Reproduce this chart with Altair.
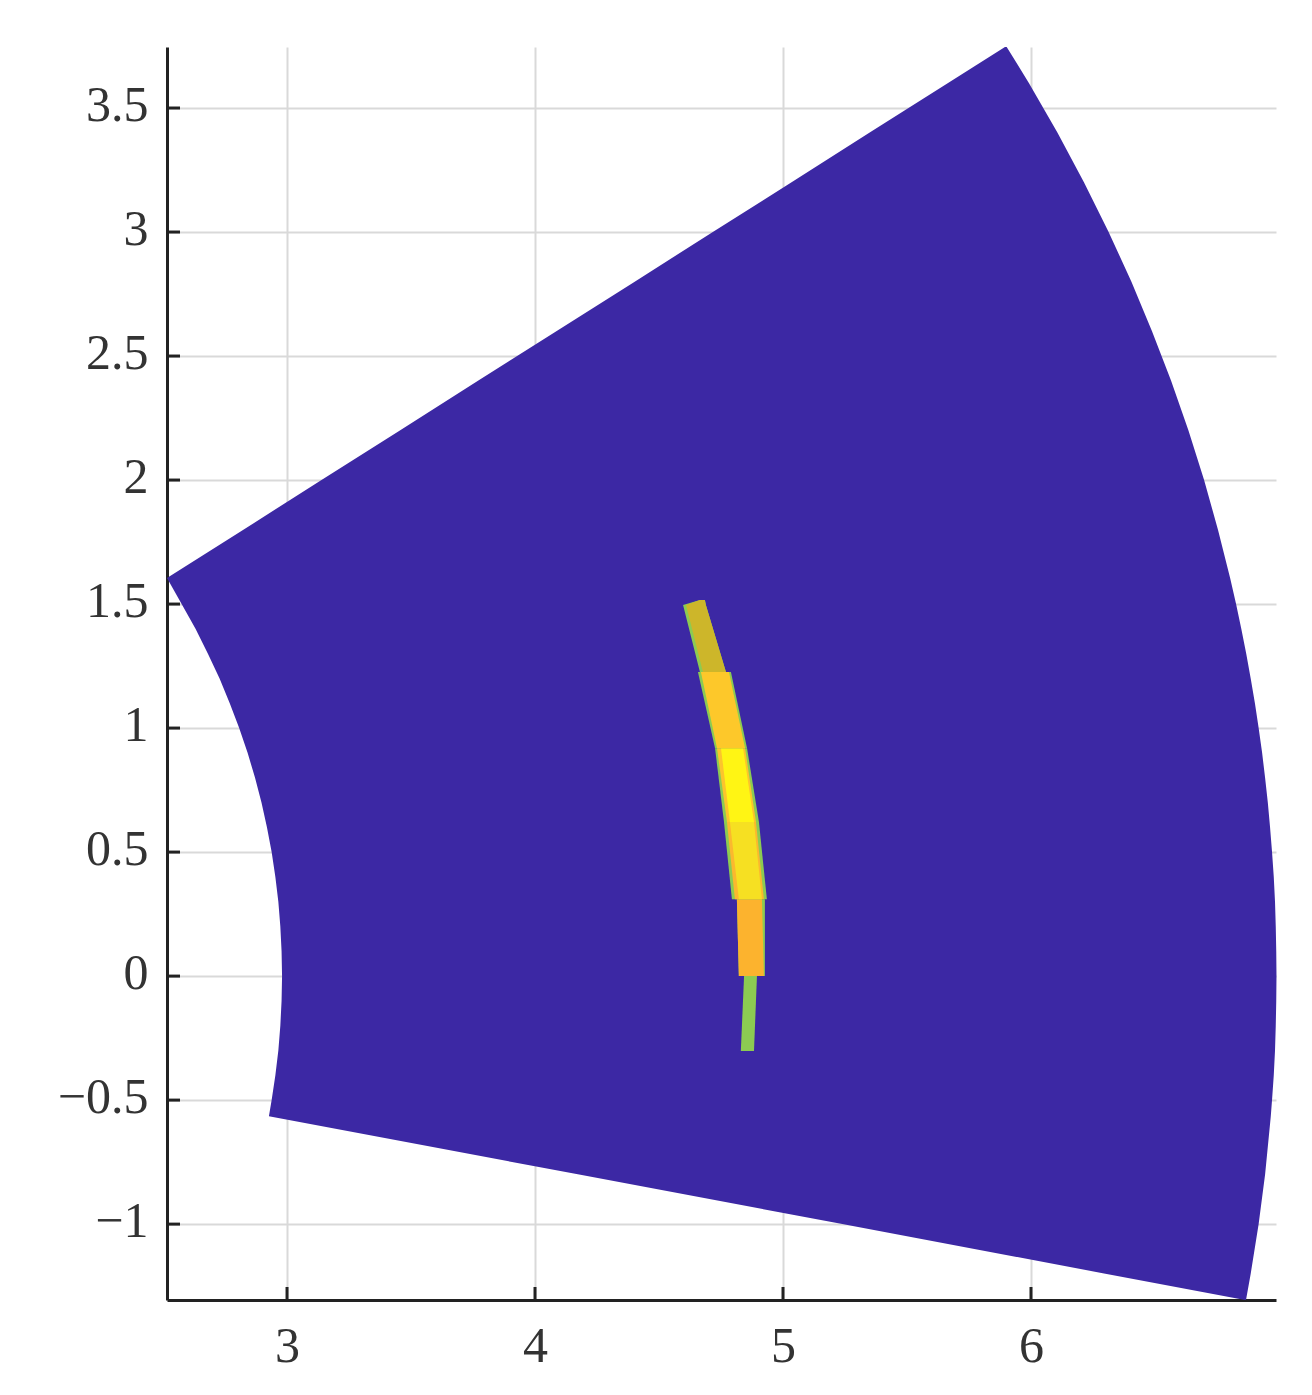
import altair as alt
import pandas as pd

x_ticks = [3, 4, 5, 6]
y_ticks = [-1, -0.5, 0, 0.5, 1, 1.5, 2, 2.5, 3, 3.5]
x_domain = [2.516, 6.988]
y_domain = [-1.306, 3.746]

# annular sector, read row by row
sector_y = [-1.306, -1.2, -1.0, -0.8, -0.565, -0.5, -0.4, -0.3, -0.2, -0.1, 0, 0.1, 0.2, 0.3, 0.4, 0.5, 0.6, 0.7, 0.8, 0.9,
            1.0, 1.1, 1.2, 1.3, 1.4, 1.5, 1.605,
            1.8, 2.0, 2.2, 2.4, 2.6, 2.8, 3.0, 3.2, 3.4, 3.6, 3.746]
sector_left = [6.863, 6.300, 5.239, 4.178, 2.927, 2.938, 2.953, 2.965, 2.973, 2.978, 2.980, 2.978, 2.973, 2.965, 2.953, 2.938, 2.919, 2.897, 2.871, 2.841,
               2.807, 2.769, 2.728, 2.681, 2.631, 2.575, 2.516,
               2.824, 3.139, 3.455, 3.770, 4.086, 4.402, 4.717, 5.033, 5.348, 5.664, 5.895]
sector_right = [6.867, 6.886, 6.918, 6.944, 6.967, 6.972, 6.979, 6.984, 6.987, 6.989, 6.990, 6.989, 6.987, 6.984, 6.979, 6.972, 6.964, 6.955, 6.944, 6.932,
                6.918, 6.903, 6.886, 6.868, 6.848, 6.827, 6.803,
                6.754, 6.698, 6.635, 6.565, 6.488, 6.405, 6.313, 6.214, 6.107, 5.992, 5.902]
sector_color = "#3c28a4"

GREEN = "#8ccb52"
# bands: colour, y rows, left edge, right edge
bands = [
    (GREEN, [-0.302, 0.0], [4.830, 4.843], [4.883, 4.895]),
    (GREEN, [0.0, 0.310], [4.822, 4.814], [4.927, 4.927]),
    ("#fcb32e", [0.0, 0.310], [4.822, 4.814], [4.923, 4.915]),
    (GREEN, [0.310, 0.621], [4.794, 4.762], [4.935, 4.903]),
    ("#fbb82e", [0.310, 0.621], [4.806, 4.774], [4.923, 4.891]),
    ("#f6e022", [0.310, 0.621], [4.822, 4.786], [4.915, 4.883]),
    (GREEN, [0.621, 0.919], [4.762, 4.726], [4.903, 4.855]),
    ("#fcc42c", [0.621, 0.919], [4.774, 4.734], [4.891, 4.847]),
    ("#fff514", [0.621, 0.919], [4.786, 4.750], [4.883, 4.839]),
    (GREEN, [0.919, 1.226], [4.726, 4.657], [4.855, 4.790]),
    ("#fdc82a", [0.919, 1.226], [4.734, 4.669], [4.847, 4.782]),
    (GREEN, [1.226, 1.496, 1.516], [4.665, 4.597, 4.665], [4.770, 4.689, 4.685]),
    ("#cdb62a", [1.226, 1.496, 1.516], [4.677, 4.609, 4.665], [4.770, 4.689, 4.685]),
]

W, H = 1109, 1253
xs = alt.Scale(domain=x_domain, nice=False, zero=False)
ys = alt.Scale(domain=y_domain, nice=False, zero=False)
FONT = "Liberation Serif"
INK = "#222222"

axis_x = alt.Axis(values=x_ticks, grid=True, gridColor="#d9d9d9", gridWidth=2, ticks=False, title=None,
                  domainColor=INK, domainWidth=3, labelFont=FONT, labelFontSize=50, labelColor="#333333",
                  labelPadding=21, format="~g", labelOverlap=False, labelFlush=False)
axis_y = alt.Axis(values=y_ticks, grid=True, gridColor="#d9d9d9", gridWidth=2, ticks=False, title=None,
                  domainColor=INK, domainWidth=3, labelFont=FONT, labelFontSize=50, labelColor="#333333",
                  labelPadding=19, labelOffset=-3, format="~g", labelOverlap=False, labelFlush=False)


def area_layer(color, yy, xl, xr):
    df = pd.DataFrame({"y": yy, "xl": xl, "xr": xr})
    return alt.Chart(df).mark_area(orient="horizontal", color=color, interpolate="linear").encode(
        y=alt.Y("y:Q", scale=ys, axis=axis_y),
        x=alt.X("xl:Q", scale=xs, axis=axis_x),
        x2="xr:Q",
    )


tick_x = alt.Chart(pd.DataFrame({"v": x_ticks})).mark_rule(color=INK, strokeWidth=3).encode(
    x=alt.X("v:Q", scale=xs, axis=axis_x), y=alt.value(H), y2=alt.value(H - 13)
)
tick_y = alt.Chart(pd.DataFrame({"v": y_ticks})).mark_rule(color=INK, strokeWidth=3).encode(
    y=alt.Y("v:Q", scale=ys, axis=axis_y), x=alt.value(0), x2=alt.value(13)
)

chart = alt.layer(
    tick_x, tick_y,
    area_layer(sector_color, sector_y, sector_left, sector_right),
    *[area_layer(*b) for b in bands]
).properties(
    width=W, height=H,
    autosize=alt.AutoSizeParams(type="none"),
    padding={"left": 159, "top": 39, "right": 20, "bottom": 85},
    background="white",
).configure_view(stroke=None)

chart.save("out.html", embed_options={"renderer": "svg", "actions": False})
